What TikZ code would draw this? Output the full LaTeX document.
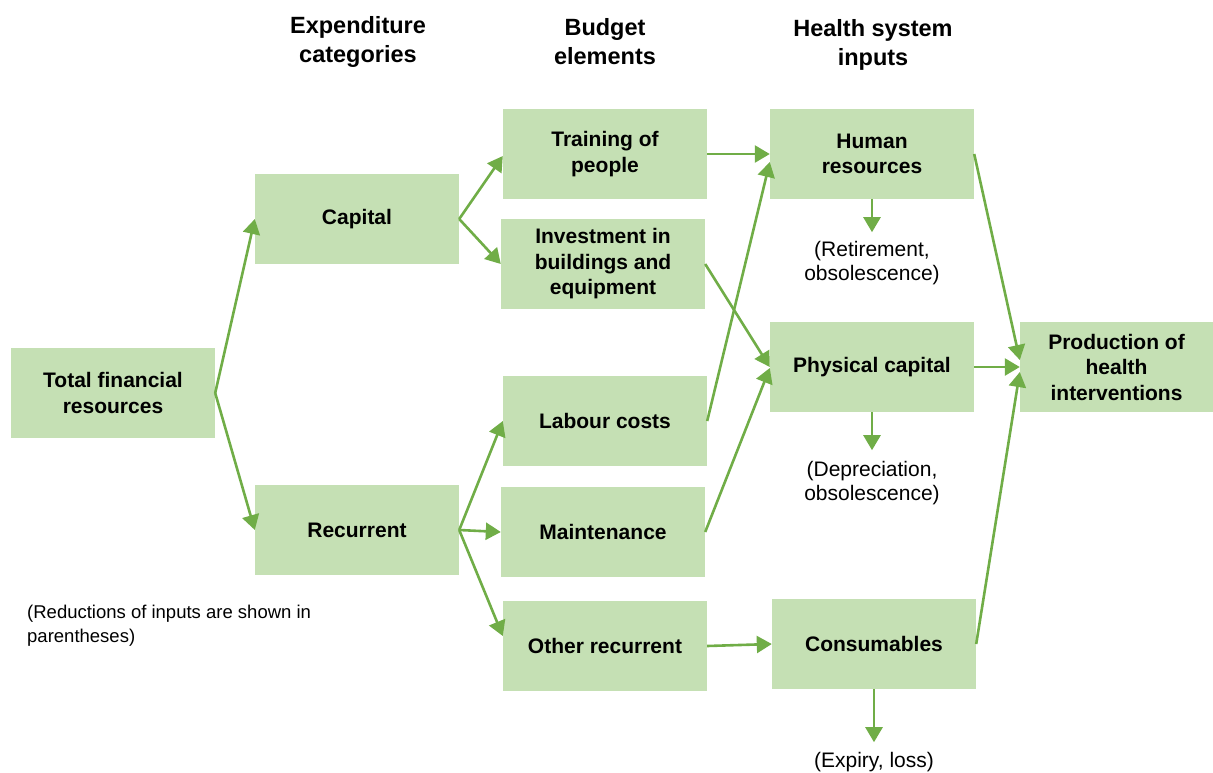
\documentclass[tikz,border=0pt]{standalone}
\usepackage{fontspec}
\setmainfont{Liberation Sans}
\usetikzlibrary{arrows.meta,calc}
\definecolor{boxfill}{HTML}{C5E0B4}
\definecolor{arr}{HTML}{70AD47}
\begin{document}
\begin{tikzpicture}[x=1pt,y=-1pt,
  box/.style={fill=boxfill, minimum width=204pt, minimum height=90pt, align=center, inner sep=0pt,
    font=\fontsize{21}{25.5}\selectfont\bfseries},
  hdr/.style={align=center, inner sep=0pt, font=\fontsize{23.5}{29}\selectfont\bfseries},
  note/.style={align=center, inner sep=0pt, font=\fontsize{21}{24}\selectfont},
  conn/.style={draw=arr, line width=2.6pt, -{Triangle[length=15pt,width=17pt]}}]
\useasboundingbox (0,0) rectangle (1213,772);

% headers
\node[hdr] (h1) at (358,42) {Expenditure\\categories};
\node[hdr] (h2) at (605,42) {Budget\\elements};
\node[hdr] (h3) at (873,45) {Health system\\inputs};

% boxes
\node[box] (total) at (113,393) {Total financial\\resources};
\node[box] (capital) at (357,219) {Capital};
\node[box] (recurrent) at (357,530) {Recurrent};
\node[box] (training) at (605,154) {Training of\\people};
\node[box] (invest) at (603,264) {Investment in\\buildings and\\equipment};
\node[box] (labour) at (605,421) {Labour costs};
\node[box] (maint) at (603,532) {Maintenance};
\node[box] (other) at (605,646) {Other recurrent};
\node[box] (human) at (872,154) {Human\\resources};
\node[box] (physical) at (872,367) {Physical capital};
\node[box] (consum) at (874,644) {Consumables};
\node[box, minimum width=193pt] (prod) at (1116.5,367) {Production of\\health\\interventions};

% notes
\node[note] (n1) at (872,263) {(Retirement,\\obsolescence)};
\node[note] (n2) at (872,483) {(Depreciation,\\obsolescence)};
\node[note, anchor=north] (n3) at (874,752) {(Expiry, loss)};
\node[align=left, inner sep=0pt, anchor=west, font=\fontsize{18.5}{24}\selectfont] (key) at (27,626)
  {(Reductions of inputs are shown in\\parentheses)};

% coordinates for arrow ends
\coordinate (d1) at ($(human.south)+(0,33)$);
\coordinate (d2) at ($(physical.south)+(0,38)$);
\coordinate (d3) at ($(consum.south)+(0,53)$);

% connectors
\draw[conn] (total.east) -- (capital.west);
\draw[conn] (total.east) -- (recurrent.west);
\draw[conn] (capital.east) -- ($(training.west)+(0,2)$);
\draw[conn] (capital.east) -- (invest.west);
\draw[conn] (recurrent.east) -- (labour.west);
\draw[conn] (recurrent.east) -- (maint.west);
\draw[conn] (recurrent.east) -- ($(other.west)+(0,-10)$);
\draw[conn] (training.east) -- (human.west);
\draw[conn] (invest.east) -- (physical.west);
\draw[conn] (labour.east) -- ($(human.west)+(0,8)$);
\draw[conn] (maint.east) -- ($(physical.west)+(0,1)$);
\draw[conn] (other.east) -- (consum.west);
\draw[conn] (human.east) -- ($(prod.west)+(0,-7)$);
\draw[conn] (physical.east) -- (prod.west);
\draw[conn] (consum.east) -- ($(prod.west)+(0,5)$);
\draw[conn] (human.south) -- (d1);
\draw[conn] (physical.south) -- (d2);
\draw[conn] (consum.south) -- (d3);
\end{tikzpicture}
\end{document}
